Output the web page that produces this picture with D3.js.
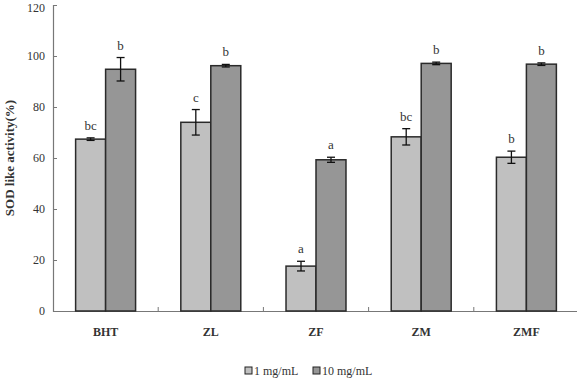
<!DOCTYPE html>
<html><head><meta charset="utf-8">
<script src="https://cdn.jsdelivr.net/npm/d3@7/dist/d3.min.js"></script>
<style>body{margin:0;background:#fff}svg{display:block}</style>
</head><body>
<script>
const categories = ["BHT","ZL","ZF","ZM","ZMF"];
const seriesNames = ["1 mg/mL","10 mg/mL"];
const low = [67.4, 74.0, 17.6, 68.3, 60.3];
const lowErr = [0.5, 5.0, 1.9, 3.2, 2.4];
const lowLetters = ["bc","c","a","bc","b"];
const high = [94.8, 96.2, 59.3, 97.1, 96.8];
const highErr = [4.6, 0.5, 1.0, 0.5, 0.5];
const highLetters = ["b","b","a","b","b"];
const yTicks = [0,20,40,60,80,100,120];
const colors = ["#c0c0c0","#969696"];

const W=577,H=384;
const svg=d3.select("body").append("svg").attr("width",W).attr("height",H);
const font="Liberation Serif, Times New Roman, serif";
const x0=d3.scaleBand().domain(categories).range([53,579]).paddingInner(0).paddingOuter(0);
const x1=d3.scaleBand().domain([0,1]).range([0,x0.bandwidth()*0.57]);
const y=d3.scaleLinear().domain([0,120]).range([311,5]);
const axisColor="#777";

// y axis
const ya=svg.append("g").attr("transform","translate(53,0)")
  .call(d3.axisLeft(y).tickValues(yTicks).tickSize(-4).tickPadding(8).tickFormat(d3.format("d")));
ya.select(".domain").attr("stroke",axisColor).attr("stroke-width",1.2);
ya.selectAll(".tick line").attr("stroke",axisColor);
ya.selectAll("text").attr("font-family",font).attr("font-size",12).attr("fill","#333");
ya.selectAll(".tick").filter(d=>d===120).select("text").attr("dy","0.5em");

// x axis
const xa=svg.append("g").attr("transform","translate(0,311)")
  .call(d3.axisBottom(x0).tickSize(0).tickPadding(16));
xa.select(".domain").attr("stroke",axisColor).attr("stroke-width",1.2);
xa.selectAll("text").attr("font-family",font).attr("font-size",12).attr("font-weight","bold").attr("fill","#333");
// separator ticks
svg.append("g").selectAll("line").data(categories.slice(1)).join("line")
  .attr("x1",d=>x0(d)).attr("x2",d=>x0(d)).attr("y1",311).attr("y2",307)
  .attr("stroke",axisColor);

const data=[low,high], errs=[lowErr,highErr], letters=[lowLetters,highLetters];
const off=x0.bandwidth()*(1-0.57)/2;
[0,1].forEach(s=>{
  const g=svg.append("g");
  categories.forEach((c,i)=>{
    const bx=x0(c)+off+x1(s), bw=x1.bandwidth(), cx=bx+bw/2;
    const v=data[s][i], e=errs[s][i];
    g.append("rect").attr("x",bx).attr("y",y(v)).attr("width",bw).attr("height",y(0)-y(v))
      .attr("fill",colors[s]).attr("stroke","#2a2a2a").attr("stroke-width",1.5);
    g.append("line").attr("x1",cx).attr("x2",cx).attr("y1",y(v+e)).attr("y2",y(v-e)).attr("stroke","#111").attr("stroke-width",1.3);
    [v+e,v-e].forEach(t=>g.append("line").attr("x1",cx-4).attr("x2",cx+4).attr("y1",y(t)).attr("y2",y(t)).attr("stroke","#111").attr("stroke-width",1.3));
    g.append("text").attr("x",cx).attr("y",y(v+e)-8).attr("text-anchor","middle")
      .attr("font-family",font).attr("font-size",13).attr("fill","#333").text(letters[s][i]);
  });
});

// y label
svg.append("text").attr("transform","translate(14,158) rotate(-90)").attr("text-anchor","middle")
  .attr("font-family",font).attr("font-size",13).attr("font-weight","bold").attr("fill","#333")
  .text("SOD like activity(%)");

// legend
const lg=svg.append("g").attr("transform","translate(245,376)");
const lx=[0,68];
seriesNames.forEach((n,i)=>{
  lg.append("rect").attr("x",lx[i]).attr("y",-9).attr("width",7).attr("height",7)
    .attr("fill",colors[i]).attr("stroke","#222").attr("stroke-width",1);
  lg.append("text").attr("x",lx[i]+9).attr("y",-1).attr("font-family",font).attr("font-size",12)
    .attr("fill","#333").text(n);
});
</script>
</body></html>
